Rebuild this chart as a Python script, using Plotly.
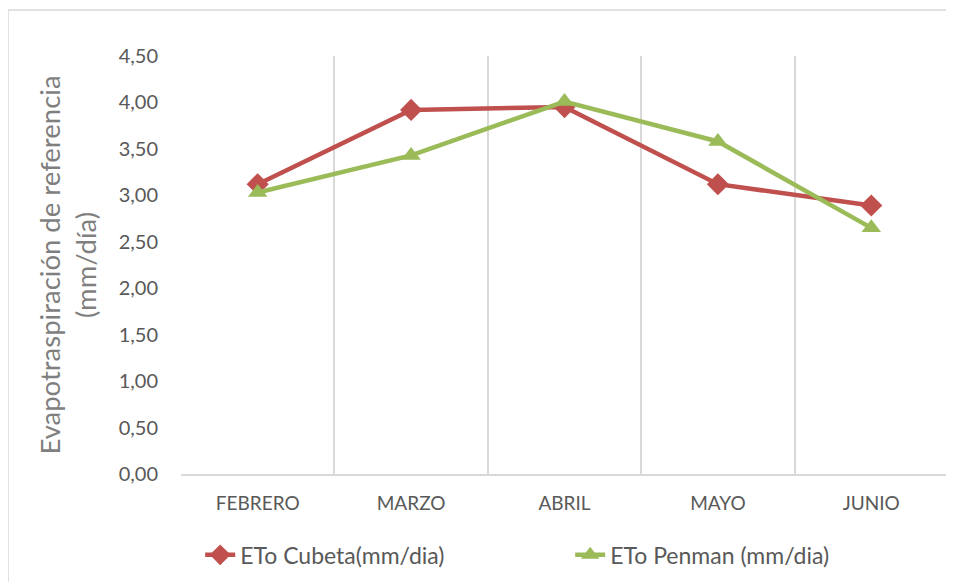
import plotly.graph_objects as go

meses = ["FEBRERO", "MARZO", "ABRIL", "MAYO", "JUNIO"]
eto_cubeta = [3.12, 3.92, 3.95, 3.12, 2.89]
eto_penman = [3.03, 3.43, 4.01, 3.58, 2.65]
y_ticks = [0, 0.5, 1, 1.5, 2, 2.5, 3, 3.5, 4, 4.5]

RED = "#C0504D"
GREEN = "#9BBB59"
TXT = "#595959"
GRID = "#D9D9D9"
FONT = "Lato, Open Sans, sans-serif"

fig = go.Figure()
fig.add_trace(go.Scatter(
    x=meses, y=eto_cubeta, mode="lines+markers", name="ETo Cubeta(mm/dia)",
    line=dict(color=RED, width=4.5),
    marker=dict(symbol="diamond", size=17, color=RED),
))
fig.add_trace(go.Scatter(
    x=meses, y=eto_penman, mode="lines+markers", name="ETo Penman (mm/dia)",
    line=dict(color=GREEN, width=4.5),
    marker=dict(symbol="triangle-up", size=17, color=GREEN),
))

# page body has an 8px margin, so the figure is sized to fit the window
W, H = 946, 574
L, R, T, B = 173, 6, 48, 108
pw = W - L - R
ph = H - T - B

fig.update_layout(
    width=W, height=H,
    margin=dict(l=L, r=R, t=T, b=B, autoexpand=False),
    paper_bgcolor="white", plot_bgcolor="white",
    separators=",.",
    font=dict(family=FONT, color=TXT),
    showlegend=True,
    legend=dict(
        orientation="h", x=0.025, xanchor="left", y=-0.142, yanchor="top",
        font=dict(size=23, color=TXT, family=FONT), entrywidth=325,
        traceorder="normal", bgcolor="rgba(0,0,0,0)",
    ),
    xaxis=dict(
        type="category", range=[-0.5, 4.5], tickson="boundaries",
        showgrid=True, gridcolor=GRID, gridwidth=1.5,
        showline=True, linecolor=GRID, linewidth=1.5,
        ticks="", tickfont=dict(size=19, color=TXT, family=FONT),
        ticklabelstandoff=11, zeroline=False, automargin=False,
    ),
    yaxis=dict(
        range=[0, 4.5], tickvals=y_ticks, tickformat=".2f",
        showgrid=False, showline=False, zeroline=False, ticks="",
        tickfont=dict(size=20, color=TXT, family=FONT), ticklabelstandoff=22,
        automargin=False,
        title=dict(text="Evapotraspiración de referencia<br>(mm/día)",
                   font=dict(size=27.5, color="#7F7F7F", family=FONT), standoff=14),
    ),
    shapes=[dict(
        type="rect", xref="paper", yref="paper",
        x0=-L / pw, x1=(W + 30 - L) / pw,
        y0=-(H + 30 - T - ph) / ph, y1=(ph + T - 2) / ph,
        line=dict(color=GRID, width=1.5), fillcolor="rgba(0,0,0,0)",
        layer="below",
    )],
)

fig.write_html("out.html")
